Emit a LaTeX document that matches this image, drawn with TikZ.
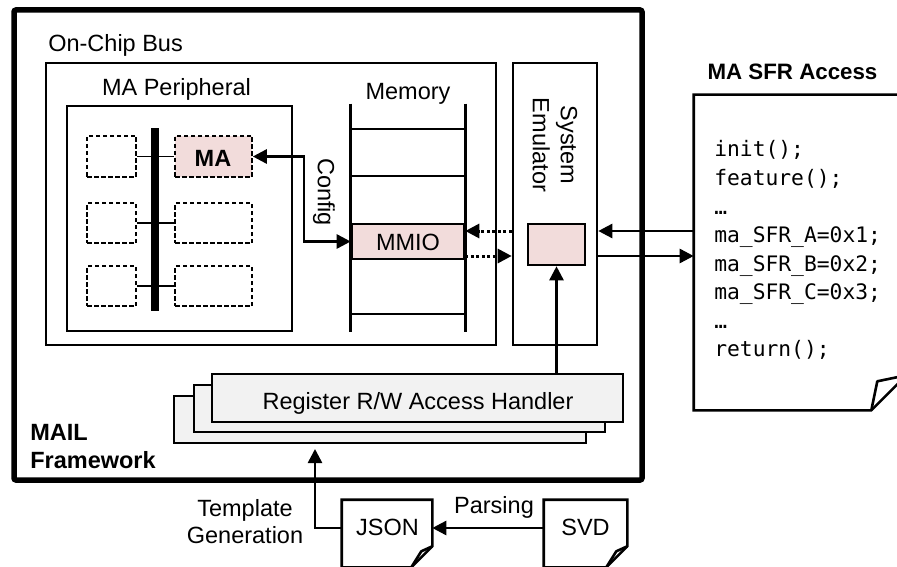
\documentclass[tikz,border=0pt]{standalone}
\usepackage{fontspec}
\setmainfont{Liberation Sans}
\setmonofont{DejaVu Sans Mono}
\usetikzlibrary{arrows.meta,fit}
\definecolor{pinkfill}{HTML}{F2DCDB}
\definecolor{grayfill}{HTML}{F2F2F2}
\begin{document}
\begin{tikzpicture}[x=1pt,y=-1pt,line width=2.6pt,
  box/.style={draw,inner sep=0pt},
  ghost/.style={inner sep=0pt},
  dbox/.style={draw,inner sep=0pt,line width=1.6pt,dash pattern=on 4.5pt off 2.5pt},
  hbox/.style={draw,inner sep=0pt,fill=grayfill},
  lbl/.style={inner sep=0pt,font=\fontsize{23.5}{28}\selectfont},
  blbl/.style={inner sep=0pt,font=\fontsize{23.5}{28}\selectfont\bfseries},
  code/.style={inner sep=0pt,font=\fontsize{21.3}{28.5}\selectfont\ttfamily},
  thinline/.style={line width=1.6pt},
  tip/.tip={Triangle[length=14pt,width=14pt]},
  arr/.style={-tip},
  darr/.style={tip-tip},
  dotarr/.style={-tip,line width=3pt,dash pattern=on 3pt off 2.5pt}]
\useasboundingbox (0,0) rectangle (897,567);
\fill[white] (0,0) rectangle (897,567);
% outer framework
\node[box,line width=5.5pt,rounded corners=2pt,fit={(14,10)(642,480)}] (frame) {};
\node[blbl,anchor=north west,align=left] (maillbl) at (29,423) {MAIL\\Framework};
% on-chip bus
\node[box,fit={(46,63)(496,345)}] (bus) {};
\node[lbl,anchor=base west] (buslbl) at (47,51.5) {On-Chip Bus};
% MA peripheral
\node[box,fit={(67,106)(292,331)}] (periph) {};
\node[lbl,anchor=base] (periphlbl) at (176.5,96) {MA Peripheral};
\node[dbox,fit={(87,136)(136,177)}] (d11) {};
\node[dbox,fill=pinkfill,fit={(175,136)(252,177)}] (ma) {};
\node[blbl,anchor=base] (malbl) at (213,166.5) {MA};
\node[dbox,fit={(87,203)(136,243)}] (d21) {};
\node[dbox,fit={(175,203)(252,243)}] (d22) {};
\node[dbox,fit={(87,266)(136,306)}] (d31) {};
\node[dbox,fit={(175,266)(252,306)}] (d32) {};
\draw[thinline] (d11.east) -- (ma.west);
\draw[thinline] (d21.east) -- (d22.west);
\draw[thinline] (d31.east) -- (d32.west);
\node[fill=black,inner sep=0pt,fit={(151,128)(158.5,311)}] (busbar) {};
% memory
\node[ghost,fit={(352,105)(464,331)}] (mem) {};
\node[lbl,anchor=base] (memlbl) at (408,100) {Memory};
\draw (mem.north west) -- (mem.south west);
\draw (mem.north east) -- (mem.south east);
\foreach \yy in {129,176,314} \draw (mem.west |- 0,\yy) -- (mem.east |- 0,\yy);
\node[box,fill=pinkfill,fit={(352,224)(464,259)}] (mmio) {};
\node[lbl,anchor=base] (mmiolbl) at (408,250.5) {MMIO};
% config
\coordinate (cfg) at (304,0);
\draw[darr] (ma.east) -- (ma.east -| cfg) -- (cfg |- mmio.west) -- (mmio.west);
\node[lbl,rotate=-90] (cfglbl) at (324,192) {Config};
% system emulator
\node[box,fit={(513,63)(597,345)}] (emu) {};
\node[lbl,rotate=-90,align=center] (emulbl) at (555,145) {System\\Emulator};
\node[box,fill=pinkfill,fit={(528,224)(585,265)}] (emubox) {};
% handler stack
\node[hbox,fit={(174,396)(586,443)}] (h3) {};
\node[hbox,fit={(194,385)(605,432)}] (h2) {};
\node[hbox,fit={(212,374)(623,422)}] (h1) {};
\node[lbl,anchor=base] (hlbl) at (418,409) {Register R/W Access Handler};
\draw[arr] (h1.north -| emubox.south) -- (emubox.south);
% rows
\coordinate (rowA) at (0,231);
\coordinate (rowB) at (0,256);
\coordinate (rowC) at (0,528);
\draw[dotarr] (emu.west |- rowA) -- (mmio.east |- rowA);
\draw[dotarr] (mmio.east |- rowB) -- (emu.west |- rowB);
% SFR document
\node[ghost,fit={(695,96)(905,409)}] (sfr) {};
\draw[fill=white] (sfr.north west) -- (sfr.north east) -- ([yshift=35pt]sfr.south east) -- ([xshift=-35pt]sfr.south east) -- (sfr.south west) -- cycle;
\draw[line join=round] ([xshift=-35pt]sfr.south east) -- ([xshift=-29pt,yshift=29pt]sfr.south east) -- ([yshift=35pt]sfr.south east);
\node[blbl,font=\fontsize{22.3}{26}\selectfont\bfseries,anchor=base] (sfrlbl) at (792.5,80) {MA SFR Access};
\foreach \t [count=\i] in {{init();},{feature();},{…},{ma\_SFR\_A=0x1;},{ma\_SFR\_B=0x2;},{ma\_SFR\_C=0x3;},{…},{return();}}
  \node[code,anchor=base west] (code\i) at (713,{157+28.5*(\i-1)}) {\t};
\draw[arr] (sfr.west |- rowA) -- (emu.east |- rowA);
\draw[arr] (emu.east |- rowB) -- (sfr.west |- rowB);
% JSON and SVD
\node[ghost,fit={(343,501)(431,566)}] (json) {};
\draw[fill=white] (json.north west) -- (json.north east) -- ([yshift=21pt]json.south east) -- ([xshift=-21pt]json.south east) -- (json.south west) -- cycle;
\draw[line join=round] ([xshift=-21pt]json.south east) -- ([xshift=-11pt,yshift=16pt]json.south east) -- ([yshift=21pt]json.south east);
\node[lbl,anchor=base] (jsonlbl) at (387.5,535) {JSON};
\node[ghost,fit={(545,501)(626,566)}] (svd) {};
\draw[fill=white] (svd.north west) -- (svd.north east) -- ([yshift=21pt]svd.south east) -- ([xshift=-21pt]svd.south east) -- (svd.south west) -- cycle;
\draw[line join=round] ([xshift=-21pt]svd.south east) -- ([xshift=-11pt,yshift=16pt]svd.south east) -- ([yshift=21pt]svd.south east);
\node[lbl,anchor=base] (svdlbl) at (585.5,535) {SVD};
\draw[arr] (svd.west |- rowC) -- (json.east |- rowC);
\node[lbl,anchor=base] (parslbl) at (494,513) {Parsing};
\coordinate (tg) at (315,449);
\draw[arr] (json.west |- rowC) -| (tg);
\node[lbl,anchor=north,align=center,font=\fontsize{23.5}{27}\selectfont] (tglbl) at (245,498) {Template\\Generation};
\end{tikzpicture}
\end{document}
